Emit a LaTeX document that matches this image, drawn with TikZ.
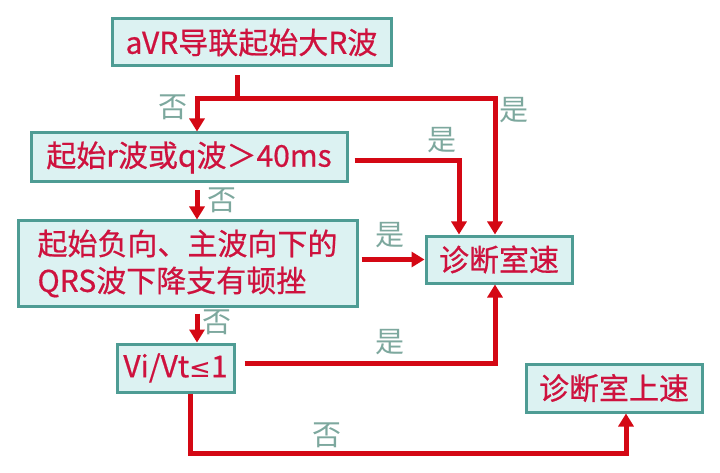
\documentclass[tikz,border=0pt]{standalone}
\usepackage{fontspec}
\newfontfamily\cjk[FakeBold=0.6]{Noto Sans CJK SC}
\newfontfamily\lblfont{Noto Sans CJK SC}
\newfontfamily\symfont{DejaVu Sans}
\usetikzlibrary{arrows.meta,calc}
\definecolor{boxfill}{RGB}{220,242,242}
\definecolor{boxline}{RGB}{78,156,148}
\definecolor{txtred}{RGB}{206,18,62}
\definecolor{arrred}{RGB}{212,8,20}
\definecolor{lblcol}{RGB}{125,168,158}
\tikzset{
  fbox/.style={draw=boxline, line width=3pt, fill=boxfill, text=txtred,
    font=\cjk\fontsize{30}{37}\selectfont, inner sep=0pt, anchor=center},
  flow/.style={draw=arrred, line width=5pt, -{Triangle[length=13pt,width=15pt]}},
  plain/.style={draw=arrred, line width=5pt},
  lbl/.style={text=lblcol, font=\lblfont\fontsize{29}{29}\selectfont, inner sep=0pt}
}
\begin{document}
\begin{tikzpicture}[x=1pt,y=-1pt]
\useasboundingbox[fill=white] (0,0) rectangle (720,473);
% boxes
\node[fbox, minimum width=279pt, minimum height=47pt] (b1) at (251.5,42.5) {aVR导联起始大R波};
\node[fbox, minimum width=316pt, minimum height=49pt] (b2) at (189,157.5) {起始r波或q波＞40ms};
\node[fbox, minimum width=339pt, minimum height=85pt, align=left] (b3) at (187.5,263.5) {起始负向、主波向下的\\QRS波下降支有顿挫};
\node[fbox, minimum width=146pt, minimum height=47pt] (b4) at (499,259.5) {诊断室速};
\node[fbox, minimum width=117pt, minimum height=48pt] (b5) at (175.5,368) {Vi/Vt{\symfont\fontsize{26}{30}\selectfont ≤}1};
\node[fbox, minimum width=176pt, minimum height=48pt] (b6) at (614,388) {诊断室上速};
% helper coordinates
\coordinate (j1) at (237,99);
\coordinate (xL) at (197,0);
\coordinate (xR) at (495,0);
\coordinate (x459) at (459,0);
\coordinate (x190) at (190,0);
\coordinate (x626) at (626,0);
\coordinate (y161) at (0,161);
\coordinate (y363) at (0,363);
\coordinate (y453) at (0,453);
% connectors
\draw[plain, shorten <=8pt] (b1.south -| j1) -- (j1);
\draw[flow] (j1) -| (b2.north -| xL);
\draw[flow] (j1) -| (b4.north -| xR);
\draw[flow, shorten <=6pt] (b2.east |- y161) -| (b4.north -| x459);
\draw[flow, shorten <=3pt] (b3.east |- b4.west) -- (b4.west);
\draw[flow, shorten <=7pt] (b2.south -| xL) -- (b3.north -| xL);
\draw[flow, shorten <=6pt] (b3.south -| xL) -- (b5.north -| xL);
\draw[flow, shorten <=9pt] (b5.east |- y363) -| (b4.south -| xR);
\draw[flow] (b5.south -| x190) -- (x190 |- y453) -| (b6.south -| x626);
% labels
\node[lbl] (l1) at (173,107) {否};
\node[lbl] (l2) at (514,110) {是};
\node[lbl] (l3) at (442,140) {是};
\node[lbl] (l4) at (222,200) {否};
\node[lbl] (l5) at (390,235) {是};
\node[lbl] (l6) at (217,322) {否};
\node[lbl] (l7) at (390,342) {是};
\node[lbl] (l8) at (327,435) {否};
\end{tikzpicture}
\end{document}
